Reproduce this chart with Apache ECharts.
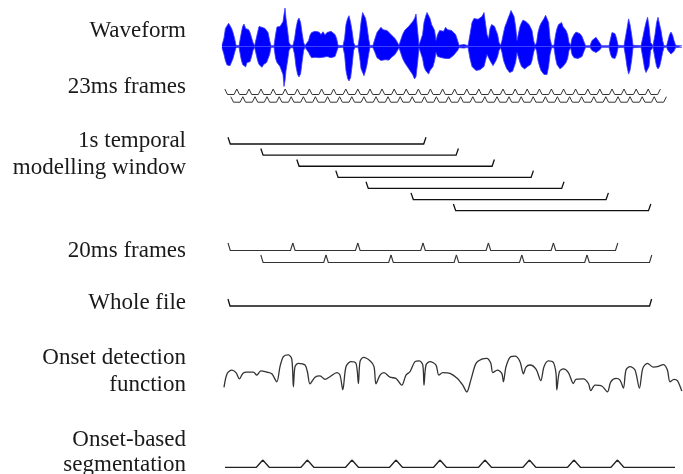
<!DOCTYPE html>
<html>
<head>
<meta charset="utf-8">
<script src="https://cdn.jsdelivr.net/npm/echarts@6.0.0/dist/echarts.min.js"></script>
<style>
  html, body { margin: 0; background: #fff; }
  #chart { width: 683px; height: 474px; }
</style>
</head>
<body>
<div id="chart"></div>
<script>
// all times in ms, the whole file is ~2.12 s long (schematic, not to scale)
const fileSpan = [0, 2118];

// waveform envelope (amplitude, 1 = full scale)
const waveTime = [-30, -20, -13, -5, 3, 10, 18, 25, 33, 40, 55, 65, 73, 80, 88, 95, 103, 110, 118, 125, 133,
  140, 148, 155, 163, 170, 178, 185, 193, 200, 208, 215, 230, 238, 245, 253, 260, 268, 275, 280, 285, 290, 298,
  305, 313, 325, 333, 340, 348, 355, 363, 370, 378, 385, 395, 403, 410, 418, 425, 435, 445, 455, 465, 475, 485,
  495, 505, 515, 525, 535, 543, 550, 575, 583, 590, 598, 605, 613, 620, 628, 635, 650, 658, 665, 673, 680, 688,
  695, 703, 710, 725, 735, 745, 755, 765, 775, 785, 795, 805, 815, 825, 835, 845, 855, 863, 873, 883, 893, 903,
  913, 923, 933, 940, 948, 955, 965, 973, 980, 988, 995, 1003, 1010, 1018, 1025, 1033, 1040, 1048, 1058, 1068,
  1078, 1088, 1098, 1108, 1118, 1128, 1138, 1148, 1155, 1180, 1200, 1210, 1220, 1230, 1240, 1250, 1260, 1270,
  1280, 1288, 1295, 1303, 1310, 1318, 1325, 1333, 1340, 1348, 1355, 1363, 1370, 1378, 1385, 1393, 1400, 1408,
  1415, 1423, 1430, 1438, 1445, 1453, 1460, 1468, 1475, 1483, 1490, 1498, 1505, 1513, 1520, 1528, 1535, 1543,
  1550, 1558, 1565, 1573, 1580, 1588, 1595, 1603, 1610, 1618, 1630, 1638, 1645, 1653, 1660, 1668, 1675, 1683,
  1690, 1698, 1705, 1713, 1720, 1730, 1740, 1750, 1760, 1770, 1780, 1788, 1810, 1820, 1830, 1840, 1850, 1860,
  1868, 1905, 1913, 1920, 1928, 1935, 1943, 1950, 1980, 1988, 1995, 2003, 2010, 2018, 2025, 2065, 2075, 2083,
  2090, 2098, 2105, 2113, 2125, 2135, 2143, 2150, 2158, 2165, 2173, 2180, 2193, 2200, 2208, 2215, 2223, 2230,
  2238, 2245, 2255, 2270];
const wavePeak = [0.03, 0.21, 0.45, 0.5, 0.58, 0.55, 0.45, 0.35, 0.2, 0.03, 0.02, 0.3, 0.5, 0.56, 0.45, 0.5, 0.42,
  0.35, 0.3, 0.1, 0.02, 0.06, 0.35, 0.5, 0.55, 0.48, 0.52, 0.45, 0.48, 0.35, 0.15, 0.02, 0.02, 0.3, 0.49, 0.45,
  0.5, 0.55, 0.62, 0.8, 0.96, 0.7, 0.4, 0.1, 0.03, 0.03, 0.2, 0.45, 0.65, 0.71, 0.6, 0.35, 0.1, 0.02, 0.03, 0.15,
  0.28, 0.35, 0.3, 0.38, 0.33, 0.36, 0.3, 0.37, 0.29, 0.35, 0.31, 0.38, 0.41, 0.3, 0.2, 0.03, 0.02, 0.2, 0.55,
  0.7, 0.77, 0.6, 0.4, 0.1, 0.02, 0.02, 0.25, 0.6, 0.85, 0.9, 0.7, 0.5, 0.2, 0.02, 0.03, 0.2, 0.35, 0.42, 0.48,
  0.42, 0.38, 0.4, 0.36, 0.3, 0.3, 0.2, 0.12, 0.03, 0.03, 0.3, 0.4, 0.45, 0.5, 0.55, 0.62, 0.7, 0.81, 0.4, 0.03,
  0.02, 0.3, 0.6, 0.75, 0.85, 0.9, 0.7, 0.55, 0.6, 0.4, 0.15, 0.3, 0.4, 0.45, 0.38, 0.48, 0.42, 0.45, 0.4, 0.38,
  0.3, 0.15, 0.03, 0.05, 0.02, 0.3, 0.6, 0.7, 0.73, 0.68, 0.7, 0.75, 0.85, 0.9, 0.3, 0.2, 0.45, 0.55, 0.6, 0.5,
  0.4, 0.3, 0.1, 0.03, 0.15, 0.35, 0.5, 0.6, 0.7, 0.8, 0.9, 0.94, 0.75, 0.5, 0.15, 0.2, 0.5, 0.6, 0.66, 0.69,
  0.62, 0.6, 0.55, 0.5, 0.4, 0.15, 0.03, 0.1, 0.35, 0.5, 0.58, 0.62, 0.7, 0.78, 0.83, 0.6, 0.2, 0.03, 0.03, 0.3,
  0.45, 0.55, 0.58, 0.6, 0.5, 0.45, 0.4, 0.3, 0.1, 0.03, 0.2, 0.3, 0.36, 0.33, 0.32, 0.25, 0.12, 0.02, 0.02,
  0.15, 0.2, 0.23, 0.18, 0.08, 0.02, 0.02, 0.2, 0.35, 0.4, 0.32, 0.2, 0.03, 0.02, 0.25, 0.45, 0.69, 0.55, 0.3,
  0.03, 0.02, 0.25, 0.45, 0.6, 0.73, 0.5, 0.1, 0.02, 0.3, 0.6, 0.73, 0.55, 0.4, 0.15, 0.02, 0.02, 0.15, 0.3,
  0.36, 0.28, 0.15, 0.03, 0.05, 0.02, 0.02];
const waveTrough = [0.03, 0.2, 0.35, 0.46, 0.45, 0.48, 0.5, 0.3, 0.15, 0.03, 0.02, 0.3, 0.45, 0.5, 0.51, 0.4,
  0.45, 0.38, 0.25, 0.1, 0.02, 0.06, 0.35, 0.45, 0.5, 0.52, 0.45, 0.48, 0.4, 0.35, 0.2, 0.02, 0.02, 0.3, 0.4,
  0.45, 0.5, 0.55, 0.7, 1.0, 0.85, 0.6, 0.35, 0.1, 0.03, 0.03, 0.2, 0.5, 0.7, 0.76, 0.68, 0.4, 0.1, 0.02, 0.03,
  0.15, 0.22, 0.28, 0.3, 0.27, 0.31, 0.28, 0.3, 0.27, 0.28, 0.25, 0.3, 0.28, 0.3, 0.25, 0.2, 0.03, 0.02, 0.2,
  0.6, 0.8, 0.86, 0.78, 0.5, 0.1, 0.02, 0.02, 0.25, 0.55, 0.65, 0.73, 0.6, 0.45, 0.2, 0.02, 0.03, 0.15, 0.28,
  0.32, 0.35, 0.36, 0.33, 0.3, 0.34, 0.28, 0.26, 0.2, 0.12, 0.03, 0.03, 0.3, 0.4, 0.45, 0.55, 0.6, 0.7, 0.81,
  0.75, 0.4, 0.03, 0.02, 0.3, 0.5, 0.6, 0.65, 0.69, 0.6, 0.55, 0.5, 0.35, 0.15, 0.25, 0.3, 0.28, 0.31, 0.3, 0.28,
  0.3, 0.25, 0.22, 0.18, 0.1, 0.03, 0.04, 0.02, 0.3, 0.5, 0.55, 0.6, 0.55, 0.58, 0.55, 0.5, 0.45, 0.2, 0.2, 0.35,
  0.42, 0.48, 0.45, 0.35, 0.25, 0.1, 0.03, 0.15, 0.35, 0.45, 0.55, 0.6, 0.65, 0.69, 0.62, 0.6, 0.4, 0.15, 0.2,
  0.4, 0.5, 0.52, 0.56, 0.55, 0.5, 0.48, 0.45, 0.35, 0.15, 0.03, 0.1, 0.35, 0.5, 0.6, 0.65, 0.7, 0.73, 0.7, 0.5,
  0.2, 0.03, 0.03, 0.3, 0.45, 0.5, 0.56, 0.52, 0.5, 0.45, 0.4, 0.3, 0.1, 0.03, 0.2, 0.28, 0.31, 0.3, 0.28, 0.25,
  0.12, 0.02, 0.02, 0.1, 0.15, 0.15, 0.12, 0.08, 0.02, 0.02, 0.2, 0.28, 0.31, 0.3, 0.2, 0.03, 0.02, 0.25, 0.5,
  0.69, 0.6, 0.35, 0.03, 0.02, 0.3, 0.55, 0.65, 0.69, 0.5, 0.1, 0.02, 0.3, 0.5, 0.56, 0.5, 0.35, 0.15, 0.02,
  0.02, 0.1, 0.15, 0.19, 0.17, 0.12, 0.03, 0.04, 0.02, 0.02];

// 23 ms frames (50% overlap): boundaries, frame i runs from b[i] to b[i+2]
const frames23Bounds = [-16, 14, 44, 74, 105, 135, 165, 195, 226, 256, 286, 316, 347, 377, 407, 437, 468, 498,
  528, 558, 589, 619, 649, 679, 710, 740, 770, 800, 831, 861, 891, 921, 952, 982, 1012, 1042, 1073, 1103, 1133,
  1163, 1194, 1224, 1254, 1284, 1315, 1345, 1375, 1405, 1436, 1466, 1496, 1526, 1557, 1587, 1617, 1647, 1678,
  1708, 1738, 1768, 1799, 1829, 1859, 1889, 1920, 1950, 1980, 2010, 2041, 2071, 2101, 2131, 2162, 2192];

// 1 s temporal modelling windows
const windowStarts = [0, 164, 344, 539, 690, 915, 1127];
const windowEnds = [990, 1152, 1332, 1527, 1680, 1902, 2114];

// 20 ms frames (drawn enlarged), frame i runs from b[i] to b[i+2]
const frames20Bounds = [0, 164, 324, 490, 649, 815, 975, 1142, 1302, 1469, 1627, 1795, 1949, 2119];

// onset detection function (normalised)
const odfTime = [-20, -4, 19, 40, 57, 74, 94, 127, 144, 164, 194, 219, 244, 260, 277, 302, 319, 327, 335, 352,
  385, 397, 410, 435, 460, 485, 510, 544, 560, 574, 590, 614, 640, 652, 660, 677, 710, 730, 740, 760, 780, 810,
  840, 869, 890, 910, 935, 957, 974, 980, 990, 1010, 1040, 1054, 1074, 1110, 1147, 1174, 1194, 1214, 1240, 1269,
  1294, 1314, 1324, 1347, 1369, 1377, 1390, 1414, 1435, 1460, 1477, 1490, 1510, 1540, 1564, 1580, 1602, 1627,
  1640, 1644, 1657, 1677, 1702, 1727, 1740, 1777, 1802, 1814, 1835, 1869, 1897, 1914, 1940, 1960, 1977, 1990,
  2010, 2035, 2057, 2074, 2097, 2127, 2147, 2177, 2197, 2210, 2230, 2247, 2269];
const odfValue = [0.16, 0.49, 0.57, 0.51, 0.36, 0.49, 0.52, 0.52, 0.45, 0.55, 0.52, 0.48, 0.29, 0.65, 0.89, 0.93,
  0.83, 0.17, 0.65, 0.73, 0.69, 0.53, 0.24, 0.40, 0.43, 0.35, 0.41, 0.51, 0.45, 0.10, 0.65, 0.77, 0.73, 0.25,
  0.77, 0.87, 0.79, 0.65, 0.24, 0.45, 0.51, 0.40, 0.37, 0.21, 0.45, 0.53, 0.77, 0.79, 0.69, 0.21, 0.69, 0.77,
  0.69, 0.45, 0.51, 0.49, 0.37, 0.21, 0.05, 0.33, 0.73, 0.83, 0.85, 0.73, 0.51, 0.57, 0.49, 0.29, 0.65, 0.89,
  0.90, 0.77, 0.48, 0.64, 0.69, 0.59, 0.32, 0.65, 0.79, 0.75, 0.49, 0.10, 0.53, 0.60, 0.51, 0.25, 0.35, 0.36,
  0.25, 0.08, 0.21, 0.19, 0.05, 0.29, 0.37, 0.33, 0.14, 0.57, 0.65, 0.57, 0.14, 0.61, 0.73, 0.64, 0.65, 0.70,
  0.57, 0.29, 0.35, 0.32, 0.07];

// onset-based segmentation
const segSpan = [-15, 2235];
const onsets = [174, 397, 620, 840, 1060, 1285, 1507, 1730, 1947];

const labels = [
  ['Waveform', 31],
  ['23ms frames', 87],
  ['1s temporal', 141],
  ['modelling window', 168],
  ['20ms frames', 251],
  ['Whole file', 303],
  ['Onset detection', 358],
  ['function', 385],
  ['Onset-based', 440],
  ['segmentation', 465]
];

const chart = echarts.init(document.getElementById('chart'));

// bracket "\____/" from start to end on a given row
function bracket(depth, slope, color, width) {
  return function (params, api) {
    const row = api.value(2);
    const a = api.coord([api.value(0), row]);
    const b = api.coord([api.value(1), row]);
    return {
      type: 'polyline',
      shape: { points: [a, [a[0] + slope, a[1] + depth], [b[0] - slope, b[1] + depth], b] },
      style: { stroke: color, lineWidth: width, fill: null }
    };
  };
}

const frames23 = frames23Bounds.slice(0, -2).map((b, i) => [b, frames23Bounds[i + 2], i % 2]);
const windows = windowStarts.map((s, i) => [s, windowEnds[i], i]);
const frames20 = frames20Bounds.slice(0, -2).map((b, i) => [b, frames20Bounds[i + 2], i % 2]);

const segHalf = 32;
const segLine = [[segSpan[0], 0]];
onsets.forEach(o => { segLine.push([o - segHalf, 0], [o, 1], [o + segHalf, 0]); });
segLine.push([segSpan[1], 0]);

const grids = [
  { top: 6.5, height: 80 },
  { top: 89, height: 7.7 },
  { top: 137.3, height: 66.7 },
  { top: 243, height: 12 },
  { top: 299, height: 10 },
  { top: 352, height: 42 },
  { top: 460, height: 7.3 }
].map(g => Object.assign({ left: 220, width: 463 }, g));

const xAxes = grids.map((g, i) => ({ type: 'value', gridIndex: i, min: -40, max: 2275, show: false }));
const yAxes = [
  { min: -1, max: 1 },
  { min: 0, max: 1, inverse: true },
  { min: 0, max: 6, inverse: true },
  { min: 0, max: 1, inverse: true },
  { min: 0, max: 1, inverse: true },
  { min: 0, max: 1 },
  { min: 0, max: 1 }
].map((a, i) => Object.assign({ type: 'value', gridIndex: i, show: false }, a));

const option = {
  animation: false,
  backgroundColor: '#fff',
  grid: grids,
  xAxis: xAxes,
  yAxis: yAxes,
  graphic: labels.map(l => ({
    type: 'text',
    x: 186,
    y: l[1],
    style: {
      text: l[0],
      font: '23px "Liberation Serif", "DejaVu Serif", serif',
      fill: '#1a1a1a',
      align: 'right',
      verticalAlign: 'middle'
    }
  })),
  series: [
    {
      type: 'line', xAxisIndex: 0, yAxisIndex: 0, showSymbol: false,
      data: waveTime.map((t, i) => [t, wavePeak[i]]),
      lineStyle: { color: '#3a3aff', width: 0.8 },
      areaStyle: { color: '#0000ff', opacity: 1 }
    },
    {
      type: 'line', xAxisIndex: 0, yAxisIndex: 0, showSymbol: false,
      data: waveTime.map((t, i) => [t, -waveTrough[i]]),
      lineStyle: { color: '#3a3aff', width: 0.8 },
      areaStyle: { color: '#0000ff', opacity: 1 }
    },
    {
      type: 'custom', xAxisIndex: 1, yAxisIndex: 1,
      renderItem: bracket(5.5, 2.7, '#333', 1),
      encode: { x: [0, 1], y: 2 },
      data: frames23
    },
    {
      type: 'custom', xAxisIndex: 2, yAxisIndex: 2,
      renderItem: bracket(6.7, 2.3, '#111', 1.3),
      encode: { x: [0, 1], y: 2 },
      data: windows
    },
    {
      type: 'custom', xAxisIndex: 3, yAxisIndex: 3,
      renderItem: bracket(7.5, 2.3, '#333', 1.1),
      encode: { x: [0, 1], y: 2 },
      data: frames20
    },
    {
      type: 'custom', xAxisIndex: 4, yAxisIndex: 4,
      renderItem: bracket(7, 2, '#111', 1.3),
      encode: { x: [0, 1], y: 2 },
      data: [[fileSpan[0], fileSpan[1], 0]]
    },
    {
      type: 'line', xAxisIndex: 5, yAxisIndex: 5, showSymbol: false, smooth: 0.3,
      data: odfTime.map((t, i) => [t, odfValue[i]]),
      lineStyle: { color: '#333', width: 1.3 }
    },
    {
      type: 'line', xAxisIndex: 6, yAxisIndex: 6, showSymbol: false,
      data: segLine,
      lineStyle: { color: '#222', width: 1.3 }
    }
  ]
};

chart.setOption(option);
</script>
</body>
</html>
